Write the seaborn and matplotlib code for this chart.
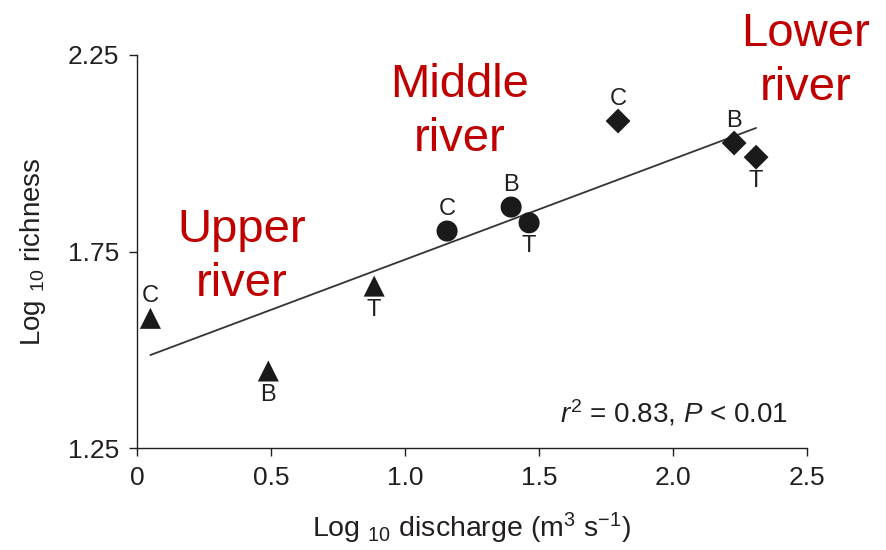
import matplotlib
matplotlib.use("Agg")
import matplotlib.pyplot as plt
import seaborn as sns
import pandas as pd

# River sections and sites (C, B, T) along the gradient
section = ["Upper", "Upper", "Upper",
           "Middle", "Middle", "Middle",
           "Lower", "Lower", "Lower"]
site = ["C", "B", "T", "C", "B", "T", "C", "B", "T"]
log_discharge = [0.05, 0.49, 0.885, 1.157, 1.396, 1.463, 1.795, 2.228, 2.31]
log_richness = [1.58, 1.446, 1.662, 1.802, 1.863, 1.823, 2.082, 2.026, 1.99]

x_ticks = [0, 0.5, 1.0, 1.5, 2.0, 2.5]
x_tick_labels = ["0", "0.5", "1.0", "1.5", "2.0", "2.5"]
y_ticks = [1.25, 1.75, 2.25]
y_tick_labels = ["1.25", "1.75", "2.25"]
stats_text = r"$r^2$ = 0.83, $P$ < 0.01"

df = pd.DataFrame({"section": section, "site": site,
                   "x": log_discharge, "y": log_richness})

sns.set_theme(style="ticks")
plt.rcParams["font.family"] = ["Liberation Sans", "DejaVu Sans"]
plt.rcParams["mathtext.fontset"] = "custom"
plt.rcParams["mathtext.rm"] = "Liberation Sans"
plt.rcParams["mathtext.it"] = "Liberation Sans:italic"
plt.rcParams["mathtext.bf"] = "Liberation Sans:bold"

ink = "#231f20"
red = "#c00000"

fig = plt.figure(figsize=(8.86, 5.5), dpi=100)
ax = fig.add_axes([137 / 886, 1 - 448 / 550, 670 / 886, 393 / 550])

# least-squares trend line across all sites
sns.regplot(data=df, x="x", y="y", scatter=False, ci=None, ax=ax,
            color="#333333", line_kws={"lw": 1.3})

marker_style = {"Upper": ("^", 230), "Middle": ("o", 230), "Lower": ("D", 160)}
for sec, (mk, sz) in marker_style.items():
    sub = df[df["section"] == sec]
    sns.scatterplot(data=sub, x="x", y="y", marker=mk, s=sz, color="#1a1a1a",
                    edgecolor="none", ax=ax, clip_on=False, zorder=3)

# site letters above or below each marker
below = {("Upper", "B"), ("Upper", "T"), ("Middle", "T"), ("Lower", "T")}
for _, r in df.iterrows():
    dy = -17 if (r["section"], r["site"]) in below else 16
    ax.annotate(r["site"], (r["x"], r["y"]), xytext=(0, dy),
                textcoords="offset points", ha="center", va="center",
                fontsize=17, color=ink)

# section names
section_labels = [(0.392, 1.861, "Upper\nriver"),
                  (1.203, 2.230, "Middle\nriver"),
                  (2.496, 2.359, "Lower\nriver")]
for tx, ty, txt in section_labels:
    ax.text(tx, ty, txt, ha="center", va="top", fontsize=34,
            color=red, linespacing=1.3)

ax.text(2.43, 1.314, stats_text, ha="right", va="baseline", fontsize=20,
        color=ink)

ax.set_xlim(0, 2.5)
ax.set_ylim(1.25, 2.25)
ax.set_xticks(x_ticks, x_tick_labels)
ax.set_yticks(y_ticks, y_tick_labels)
ax.tick_params(axis="both", length=6, width=1, color=ink, labelcolor=ink,
               labelsize=19, pad=7)
for side in ("left", "bottom"):
    ax.spines[side].set_color(ink)
    ax.spines[side].set_linewidth(1)
sns.despine(ax=ax)

ax.set_xlabel(r"Log $_{10}$ discharge (m$^3$ s$^{-1}$)", fontsize=20.5,
              color=ink, labelpad=15)
ax.set_ylabel(r"Log $_{10}$ richness", fontsize=20, color=ink, labelpad=14)

fig.savefig("out.png", dpi=100)
